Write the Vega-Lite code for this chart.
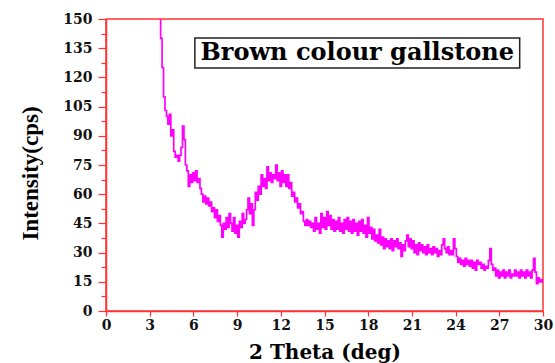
{
  "$schema": "https://vega.github.io/schema/vega-lite/v6.json",
  "width": 437,
  "height": 292,
  "autosize": {"type": "none"},
  "padding": {"left": 106, "top": 19, "right": 12, "bottom": 52},
  "background": "white",
  "config": {
    "view": {"stroke": "#ff3333", "strokeWidth": 1.5},
    "axis": {
      "domainColor": "#ff3333",
      "domainWidth": 1.5,
      "tickColor": "#ff3333",
      "tickWidth": 1.2,
      "grid": false,
      "labelFont": "DejaVu Serif",
      "labelFontWeight": "bold",
      "labelFontSize": 14,
      "labelColor": "#111111",
      "titleColor": "black"
    }
  },
  "resolve": {"axis": {"y": "independent"}},
  "layer": [
    {
      "data": {"values": [
        {"theta":3.7,"cps":175},{"theta":3.8,"cps":140},{"theta":3.9,"cps":125},{"theta":4.0,"cps":110},{"theta":4.1,"cps":103},
        {"theta":4.2,"cps":100},{"theta":4.3,"cps":96},{"theta":4.4,"cps":101},{"theta":4.5,"cps":90},{"theta":4.6,"cps":93},
        {"theta":4.7,"cps":82},{"theta":4.8,"cps":79},{"theta":4.9,"cps":80},{"theta":5.0,"cps":77},{"theta":5.1,"cps":80},
        {"theta":5.2,"cps":84},{"theta":5.3,"cps":95},{"theta":5.4,"cps":88},{"theta":5.5,"cps":75},{"theta":5.6,"cps":72},
        {"theta":5.7,"cps":64},{"theta":5.8,"cps":70},{"theta":5.9,"cps":66},{"theta":6.0,"cps":71},{"theta":6.1,"cps":67},
        {"theta":6.2,"cps":72},{"theta":6.3,"cps":66},{"theta":6.4,"cps":68},{"theta":6.5,"cps":63},{"theta":6.6,"cps":60},
        {"theta":6.7,"cps":56},{"theta":6.8,"cps":59},{"theta":6.9,"cps":55},{"theta":7.0,"cps":58},{"theta":7.1,"cps":54},
        {"theta":7.2,"cps":56},{"theta":7.3,"cps":51},{"theta":7.4,"cps":53},{"theta":7.5,"cps":48},{"theta":7.6,"cps":52},
        {"theta":7.7,"cps":46},{"theta":7.8,"cps":49},{"theta":7.9,"cps":44},{"theta":8.0,"cps":38},{"theta":8.1,"cps":45},
        {"theta":8.2,"cps":42},{"theta":8.3,"cps":48},{"theta":8.4,"cps":43},{"theta":8.5,"cps":50},{"theta":8.6,"cps":45},
        {"theta":8.7,"cps":41},{"theta":8.8,"cps":48},{"theta":8.9,"cps":40},{"theta":9.0,"cps":44},{"theta":9.1,"cps":38},
        {"theta":9.2,"cps":46},{"theta":9.3,"cps":43},{"theta":9.4,"cps":50},{"theta":9.5,"cps":45},{"theta":9.6,"cps":47},
        {"theta":9.7,"cps":52},{"theta":9.8,"cps":58},{"theta":9.9,"cps":50},{"theta":10.0,"cps":55},{"theta":10.1,"cps":44},
        {"theta":10.2,"cps":52},{"theta":10.3,"cps":61},{"theta":10.4,"cps":57},{"theta":10.5,"cps":64},{"theta":10.6,"cps":60},
        {"theta":10.7,"cps":70},{"theta":10.8,"cps":64},{"theta":10.9,"cps":68},{"theta":11.0,"cps":63},{"theta":11.1,"cps":74},
        {"theta":11.2,"cps":67},{"theta":11.3,"cps":71},{"theta":11.4,"cps":66},{"theta":11.5,"cps":70},{"theta":11.6,"cps":68},
        {"theta":11.7,"cps":75},{"theta":11.8,"cps":67},{"theta":11.9,"cps":71},{"theta":12.0,"cps":64},{"theta":12.1,"cps":72},
        {"theta":12.2,"cps":66},{"theta":12.3,"cps":70},{"theta":12.4,"cps":64},{"theta":12.5,"cps":70},{"theta":12.6,"cps":63},
        {"theta":12.7,"cps":66},{"theta":12.8,"cps":59},{"theta":12.9,"cps":61},{"theta":13.0,"cps":56},{"theta":13.1,"cps":58},
        {"theta":13.2,"cps":53},{"theta":13.3,"cps":55},{"theta":13.4,"cps":50},{"theta":13.5,"cps":51},{"theta":13.6,"cps":46},
        {"theta":13.7,"cps":44},{"theta":13.8,"cps":47},{"theta":13.9,"cps":44},{"theta":14.0,"cps":46},{"theta":14.1,"cps":43},
        {"theta":14.2,"cps":45},{"theta":14.3,"cps":41},{"theta":14.4,"cps":48},{"theta":14.5,"cps":42},{"theta":14.6,"cps":45},
        {"theta":14.7,"cps":40},{"theta":14.8,"cps":50},{"theta":14.9,"cps":43},{"theta":15.0,"cps":48},{"theta":15.1,"cps":42},
        {"theta":15.2,"cps":51},{"theta":15.3,"cps":44},{"theta":15.4,"cps":49},{"theta":15.5,"cps":42},{"theta":15.6,"cps":47},
        {"theta":15.7,"cps":41},{"theta":15.8,"cps":46},{"theta":15.9,"cps":42},{"theta":16.0,"cps":48},{"theta":16.1,"cps":41},
        {"theta":16.2,"cps":45},{"theta":16.3,"cps":40},{"theta":16.4,"cps":47},{"theta":16.5,"cps":42},{"theta":16.6,"cps":48},
        {"theta":16.7,"cps":41},{"theta":16.8,"cps":46},{"theta":16.9,"cps":40},{"theta":17.0,"cps":47},{"theta":17.1,"cps":41},
        {"theta":17.2,"cps":45},{"theta":17.3,"cps":39},{"theta":17.4,"cps":46},{"theta":17.5,"cps":41},{"theta":17.6,"cps":47},
        {"theta":17.7,"cps":40},{"theta":17.8,"cps":44},{"theta":17.9,"cps":38},{"theta":18.0,"cps":48},{"theta":18.1,"cps":40},
        {"theta":18.2,"cps":43},{"theta":18.3,"cps":37},{"theta":18.4,"cps":42},{"theta":18.5,"cps":36},{"theta":18.6,"cps":39},
        {"theta":18.7,"cps":35},{"theta":18.8,"cps":42},{"theta":18.9,"cps":34},{"theta":19.0,"cps":38},{"theta":19.1,"cps":32},
        {"theta":19.2,"cps":37},{"theta":19.3,"cps":33},{"theta":19.4,"cps":36},{"theta":19.5,"cps":32},{"theta":19.6,"cps":37},
        {"theta":19.7,"cps":31},{"theta":19.8,"cps":36},{"theta":19.9,"cps":33},{"theta":20.0,"cps":37},{"theta":20.1,"cps":32},
        {"theta":20.2,"cps":35},{"theta":20.3,"cps":28},{"theta":20.4,"cps":34},{"theta":20.5,"cps":31},{"theta":20.6,"cps":36},
        {"theta":20.7,"cps":39},{"theta":20.8,"cps":33},{"theta":20.9,"cps":37},{"theta":21.0,"cps":32},{"theta":21.1,"cps":36},
        {"theta":21.2,"cps":30},{"theta":21.3,"cps":34},{"theta":21.4,"cps":29},{"theta":21.5,"cps":35},{"theta":21.6,"cps":31},
        {"theta":21.7,"cps":34},{"theta":21.8,"cps":30},{"theta":21.9,"cps":33},{"theta":22.0,"cps":29},{"theta":22.1,"cps":34},
        {"theta":22.2,"cps":30},{"theta":22.3,"cps":32},{"theta":22.4,"cps":29},{"theta":22.5,"cps":33},{"theta":22.6,"cps":30},
        {"theta":22.7,"cps":32},{"theta":22.8,"cps":28},{"theta":22.9,"cps":31},{"theta":23.0,"cps":29},{"theta":23.1,"cps":34},
        {"theta":23.2,"cps":37},{"theta":23.3,"cps":32},{"theta":23.4,"cps":30},{"theta":23.5,"cps":33},{"theta":23.6,"cps":29},
        {"theta":23.7,"cps":31},{"theta":23.8,"cps":29},{"theta":23.9,"cps":37},{"theta":24.0,"cps":32},{"theta":24.1,"cps":28},
        {"theta":24.2,"cps":25},{"theta":24.3,"cps":27},{"theta":24.4,"cps":24},{"theta":24.5,"cps":26},{"theta":24.6,"cps":23},
        {"theta":24.7,"cps":27},{"theta":24.8,"cps":24},{"theta":24.9,"cps":26},{"theta":25.0,"cps":23},{"theta":25.1,"cps":26},
        {"theta":25.2,"cps":22},{"theta":25.3,"cps":25},{"theta":25.4,"cps":21},{"theta":25.5,"cps":26},{"theta":25.6,"cps":24},
        {"theta":25.7,"cps":25},{"theta":25.8,"cps":22},{"theta":25.9,"cps":24},{"theta":26.0,"cps":21},{"theta":26.1,"cps":23},
        {"theta":26.2,"cps":22},{"theta":26.3,"cps":26},{"theta":26.4,"cps":32},{"theta":26.5,"cps":24},{"theta":26.6,"cps":21},
        {"theta":26.7,"cps":22},{"theta":26.8,"cps":18},{"theta":26.9,"cps":21},{"theta":27.0,"cps":17},{"theta":27.1,"cps":20},
        {"theta":27.2,"cps":18},{"theta":27.3,"cps":21},{"theta":27.4,"cps":17},{"theta":27.5,"cps":20},{"theta":27.6,"cps":18},
        {"theta":27.7,"cps":21},{"theta":27.8,"cps":17},{"theta":27.9,"cps":19},{"theta":28.0,"cps":18},{"theta":28.1,"cps":21},
        {"theta":28.2,"cps":18},{"theta":28.3,"cps":20},{"theta":28.4,"cps":17},{"theta":28.5,"cps":21},{"theta":28.6,"cps":18},
        {"theta":28.7,"cps":20},{"theta":28.8,"cps":17},{"theta":28.9,"cps":21},{"theta":29.0,"cps":18},{"theta":29.1,"cps":20},
        {"theta":29.2,"cps":17},{"theta":29.3,"cps":21},{"theta":29.4,"cps":27},{"theta":29.5,"cps":20},{"theta":29.6,"cps":14},
        {"theta":29.7,"cps":17},{"theta":29.8,"cps":15},{"theta":29.9,"cps":16},{"theta":30.0,"cps":15}
      ]},
      "mark": {"type": "line", "color": "#ff00ff", "strokeWidth": 1.7, "clip": true, "interpolate": "step"},
      "encoding": {
        "x": {
          "field": "theta", "type": "quantitative",
          "scale": {"domain": [0, 30], "nice": false, "zero": false},
          "axis": {
            "title": "2 Theta (deg)",
            "titleFont": "DejaVu Serif",
            "titleFontWeight": "bold",
            "titleFontSize": 20,
            "titleBaseline": "alphabetic",
            "titleY": 47,
            "values": [0,1.5,3,4.5,6,7.5,9,10.5,12,13.5,15,16.5,18,19.5,21,22.5,24,25.5,27,28.5,30],
            "labelExpr": "datum.value % 3 === 0 ? datum.label : ''",
            "labelOverlap": false,
            "tickSize": {"expr": "datum.value % 3 === 0 ? 5 : 3"},
            "labelPadding": 2,
            "labelFlush": false
          }
        },
        "y": {
          "field": "cps", "type": "quantitative",
          "scale": {"domain": [0, 150], "nice": false},
          "axis": {
            "title": "Intensity(cps)",
            "titleFont": "Liberation Serif",
            "titleFontWeight": "bold",
            "titleFontSize": 23,
            "titleBaseline": "alphabetic",
            "titleX": -69,
            "titleY": 154,
            "orient": "left",
            "values": [0,15,30,45,60,75,90,105,120,135,150],
            "labelOverlap": false,
            "tickSize": 8,
            "labelPadding": 6,
            "labelFlush": false
          }
        }
      }
    },
    {
      "data": {"values": [{}]},
      "mark": {"type": "rect", "fill": "white", "stroke": "#222222", "strokeWidth": 1.5},
      "encoding": {
        "x": {"datum": 6.1, "type": "quantitative"},
        "x2": {"datum": 28.4},
        "y": {
          "datum": 124.8, "type": "quantitative",
          "axis": {
            "orient": "left",
            "title": null,
            "labels": false,
            "domain": false,
            "values": [7.5,22.5,37.5,52.5,67.5,82.5,97.5,112.5,127.5,142.5],
            "tickSize": 5
          }
        },
        "y2": {"datum": 140.2}
      }
    },
    {
      "data": {"values": [{"label": "Brown colour gallstone"}]},
      "mark": {"type": "text", "font": "DejaVu Serif", "fontWeight": "bold", "fontSize": 24, "color": "black", "align": "center", "baseline": "middle"},
      "encoding": {
        "x": {"datum": 17.25, "type": "quantitative"},
        "y": {"datum": 132.5, "type": "quantitative", "axis": null},
        "text": {"field": "label"}
      }
    }
  ]
}
